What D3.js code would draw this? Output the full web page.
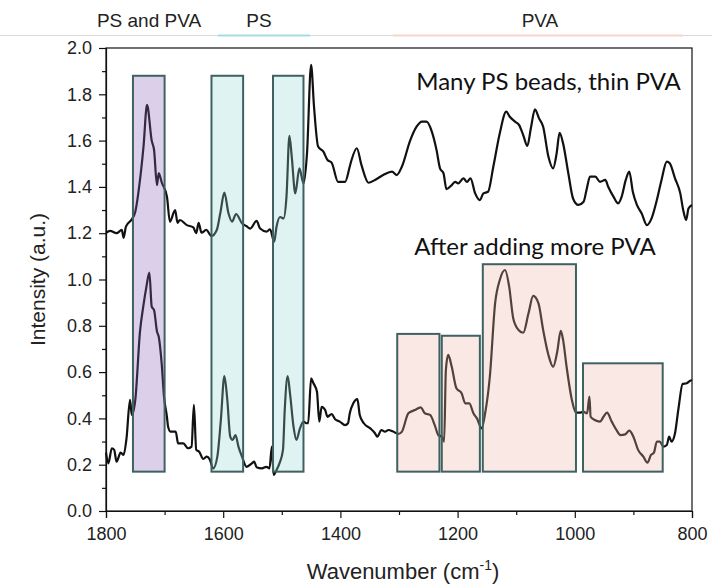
<!DOCTYPE html>
<html>
<head>
<meta charset="utf-8">
<script src="https://cdn.jsdelivr.net/npm/d3@7"></script>
<style>
  html, body { margin: 0; padding: 0; background: #fff; }
  svg { display: block; }
</style>
</head>
<body>
<div id="chart"></div>
<script>
// Spectra: [wavenumber (cm-1), intensity (a.u.)]
const thinPvaSpectrum = [
  [1800, 1.202], [1793, 1.21], [1782, 1.20], [1773, 1.214], [1770, 1.18], [1766, 1.228],
  [1756, 1.26], [1750, 1.293], [1742, 1.43], [1736, 1.574], [1730, 1.754], [1722, 1.60],
  [1718, 1.56], [1713, 1.408], [1710, 1.46], [1705, 1.42], [1696, 1.358], [1691, 1.25],
  [1682, 1.30], [1678, 1.245], [1674, 1.257], [1662, 1.235], [1651, 1.225], [1646, 1.20],
  [1642, 1.245], [1637, 1.202], [1629, 1.214], [1620, 1.188], [1611, 1.214], [1605, 1.286],
  [1598, 1.375], [1591, 1.286], [1585, 1.25], [1578, 1.283], [1568, 1.243], [1560, 1.23],
  [1554, 1.22], [1543, 1.253], [1537, 1.22], [1526, 1.207], [1520, 1.217], [1513, 1.163],
  [1509, 1.228], [1503, 1.27], [1497, 1.264], [1492, 1.358], [1487, 1.621], [1483, 1.53],
  [1477, 1.372], [1470, 1.48], [1463, 1.415], [1457, 1.545], [1450, 1.927], [1445, 1.746],
  [1438, 1.574], [1429, 1.552], [1422, 1.516], [1415, 1.505], [1404, 1.422], [1392, 1.422],
  [1384, 1.488], [1381, 1.516], [1372, 1.567], [1364, 1.494], [1352, 1.418], [1341, 1.43],
  [1327, 1.451], [1312, 1.466], [1304, 1.451], [1295, 1.488], [1281, 1.60], [1270, 1.66],
  [1261, 1.682], [1253, 1.682], [1244, 1.639], [1236, 1.56], [1230, 1.48], [1224, 1.458],
  [1219, 1.39], [1210, 1.408], [1204, 1.422], [1199, 1.415], [1190, 1.437], [1184, 1.422],
  [1178, 1.437], [1170, 1.372], [1162, 1.343], [1156, 1.372], [1148, 1.379], [1139, 1.488],
  [1128, 1.632], [1117, 1.725], [1111, 1.703], [1102, 1.682], [1095, 1.667], [1088, 1.624],
  [1081, 1.577], [1075, 1.653], [1068, 1.735], [1061, 1.696], [1054, 1.66], [1045, 1.53],
  [1037, 1.48], [1031, 1.545], [1026, 1.634], [1020, 1.588], [1011, 1.458], [1003, 1.35],
  [994, 1.322], [985, 1.336], [980, 1.387], [974, 1.444], [965, 1.444], [957, 1.422],
  [948, 1.43], [943, 1.401], [934, 1.358], [926, 1.329], [920, 1.358], [913, 1.43],
  [907, 1.466], [901, 1.379], [894, 1.322], [886, 1.286], [877, 1.235], [869, 1.264],
  [860, 1.343], [852, 1.43], [843, 1.509], [838, 1.502], [829, 1.437], [820, 1.372],
  [815, 1.30], [810, 1.257], [806, 1.307], [800, 1.322]
];

const morePvaSpectrum = [
  [1800, 0.252], [1796, 0.206], [1790, 0.271], [1786, 0.264], [1782, 0.213], [1775, 0.252],
  [1770, 0.242], [1765, 0.314], [1759, 0.48], [1756, 0.415], [1750, 0.48], [1742, 0.775],
  [1736, 0.89], [1731, 0.969], [1726, 1.03], [1722, 0.883], [1718, 0.868], [1713, 0.775],
  [1710, 0.753], [1705, 0.638], [1701, 0.494], [1696, 0.407], [1694, 0.364], [1690, 0.343],
  [1681, 0.343], [1677, 0.292], [1668, 0.292], [1660, 0.271], [1654, 0.278], [1650, 0.458],
  [1646, 0.264], [1641, 0.256], [1634, 0.225], [1628, 0.235], [1623, 0.223], [1617, 0.184],
  [1610, 0.235], [1604, 0.393], [1598, 0.583], [1593, 0.48], [1588, 0.321], [1584, 0.307],
  [1579, 0.328], [1574, 0.278], [1568, 0.235], [1560, 0.191], [1551, 0.206], [1547, 0.213],
  [1543, 0.189], [1534, 0.184], [1526, 0.191], [1521, 0.184], [1517, 0.278], [1514, 0.156],
  [1509, 0.177], [1504, 0.206], [1498, 0.264], [1495, 0.436], [1490, 0.583], [1486, 0.508],
  [1480, 0.364], [1475, 0.307], [1469, 0.357], [1463, 0.386], [1458, 0.379], [1455, 0.379],
  [1450, 0.573], [1446, 0.552], [1440, 0.515], [1436, 0.386], [1432, 0.45], [1426, 0.436],
  [1422, 0.407], [1415, 0.419], [1409, 0.396], [1401, 0.386], [1392, 0.371], [1387, 0.379],
  [1384, 0.422], [1378, 0.465], [1371, 0.483], [1367, 0.415], [1360, 0.379], [1349, 0.357],
  [1341, 0.336], [1337, 0.321], [1330, 0.35], [1324, 0.343], [1318, 0.35], [1310, 0.343],
  [1301, 0.333], [1295, 0.343], [1284, 0.422], [1273, 0.436], [1263, 0.448], [1256, 0.422],
  [1247, 0.415], [1239, 0.371], [1233, 0.328], [1227, 0.321], [1223, 0.30], [1220, 0.609],
  [1216, 0.674], [1210, 0.623], [1202, 0.53], [1193, 0.508], [1187, 0.465], [1180, 0.465],
  [1173, 0.422], [1167, 0.40], [1159, 0.357], [1153, 0.422], [1145, 0.58], [1136, 0.897],
  [1128, 0.998], [1119, 1.041], [1112, 0.969], [1105, 0.832], [1096, 0.782], [1088, 0.77],
  [1079, 0.854], [1071, 0.929], [1062, 0.897], [1054, 0.782], [1045, 0.674], [1037, 0.623],
  [1030, 0.688], [1024, 0.778], [1020, 0.739], [1014, 0.623], [1005, 0.48], [998, 0.425],
  [991, 0.425], [986, 0.429], [979, 0.422], [975, 0.494], [973, 0.407], [966, 0.393],
  [957, 0.386], [951, 0.407], [945, 0.425], [937, 0.386], [929, 0.35], [922, 0.328],
  [914, 0.331], [907, 0.347], [900, 0.321], [892, 0.264], [883, 0.235], [876, 0.209],
  [870, 0.242], [865, 0.252], [860, 0.30], [855, 0.30], [849, 0.278], [843, 0.285],
  [839, 0.321], [835, 0.30], [829, 0.336], [823, 0.444], [816, 0.549], [809, 0.552],
  [803, 0.563], [800, 0.566]
];

// Highlighted bands: [from cm-1, to cm-1, bottom, top]
const psPvaBands = [[1754, 1700, 0.17, 1.88]];
const psBands = [[1620, 1566, 0.17, 1.88], [1515, 1463, 0.17, 1.88]];
const pvaBands = [
  [1303, 1231, 0.17, 0.765],
  [1227, 1162, 0.17, 0.757],
  [1157, 998, 0.17, 1.066],
  [986, 850, 0.17, 0.638]
];

const headerLabels = ['PS and PVA', 'PS', 'PVA'];
const annotations = ['Many PS beads, thin PVA', 'After adding more PVA'];

const xMajorTicks = [1800, 1600, 1400, 1200, 1000, 800];
const xMinorTicks = [1700, 1500, 1300, 1100, 900];
const yMajorTicks = [0, 0.2, 0.4, 0.6, 0.8, 1.0, 1.2, 1.4, 1.6, 1.8, 2.0];
const yMinorTicks = [0.1, 0.3, 0.5, 0.7, 0.9, 1.1, 1.3, 1.5, 1.7, 1.9];

// ---- setup ----
const width = 712, height = 585;
const margin = { top: 48, right: 20, bottom: 74, left: 106 };
const innerW = width - margin.left - margin.right;
const innerH = height - margin.top - margin.bottom;

const svg = d3.select('#chart').append('svg')
  .attr('width', width)
  .attr('height', height);

// header strip above the plot
svg.append('line')
  .attr('x1', 0).attr('x2', width)
  .attr('y1', 35.5).attr('y2', 35.5)
  .attr('stroke', '#d9d9d9').attr('stroke-width', 1);
svg.append('line')
  .attr('x1', 218).attr('x2', 310).attr('y1', 35.5).attr('y2', 35.5)
  .attr('stroke', '#a6dde0').attr('stroke-width', 2);
svg.append('line')
  .attr('x1', 393).attr('x2', 683).attr('y1', 35.5).attr('y2', 35.5)
  .attr('stroke', '#f9d3cc').attr('stroke-width', 2);

const headerX = [149, 259, 540];
svg.selectAll('.header')
  .data(headerLabels)
  .enter().append('text')
  .attr('class', 'header')
  .attr('x', (d, i) => headerX[i])
  .attr('y', 27)
  .attr('text-anchor', 'middle')
  .style('font-family', '"Liberation Sans Narrow", "Arial Narrow", sans-serif')
  .style('font-size', '19px')
  .style('fill', '#222')
  .text(d => d);

const g = svg.append('g')
  .attr('transform', `translate(${margin.left},${margin.top})`);

// ---- scales ----
const x = d3.scaleLinear().domain([1800, 800]).range([0, innerW]);
const y = d3.scaleLinear().domain([0, 2]).range([innerH, 0]);

// ---- curves ----
const line = d3.line()
  .x(d => x(d[0]))
  .y(d => y(d[1]))
  .curve(d3.curveMonotoneX);

[thinPvaSpectrum, morePvaSpectrum].forEach(s => {
  g.append('path')
    .datum(s)
    .attr('d', line)
    .attr('fill', 'none')
    .attr('stroke', '#111')
    .attr('stroke-width', 2.2)
    .attr('stroke-linejoin', 'round');
});

// ---- bands (translucent, drawn over the curves) ----
function drawBands(list, fill) {
  g.selectAll(null)
    .data(list)
    .enter().append('rect')
    .attr('x', d => x(d[0]))
    .attr('y', d => y(d[3]))
    .attr('width', d => x(d[1]) - x(d[0]))
    .attr('height', d => y(d[2]) - y(d[3]))
    .attr('fill', fill)
    .attr('fill-opacity', 0.3)
    .attr('stroke', '#3f6161')
    .attr('stroke-width', 2);
}
drawBands(psPvaBands, '#8a5fb5');
drawBands(psBands, '#93d7d3');
drawBands(pvaBands, '#f0b3a8');

// ---- annotations ----
g.append('text')
  .attr('x', x(819)).attr('y', y(1.82))
  .attr('text-anchor', 'end')
  .style('font-family', 'Lato, sans-serif')
  .style('font-size', '24px')
  .style('fill', '#111')
  .text(annotations[0]);
g.append('text')
  .attr('x', x(1274)).attr('y', y(1.106))
  .attr('text-anchor', 'start')
  .style('font-family', 'Lato, sans-serif')
  .style('font-size', '24px')
  .style('fill', '#111')
  .text(annotations[1]);

// ---- axes ----
g.append('g')
  .attr('transform', `translate(0,${innerH})`)
  .call(d3.axisBottom(x).tickValues(xMajorTicks).tickSize(7).tickPadding(9).tickFormat(d3.format('d')));
g.append('g')
  .attr('transform', `translate(0,${innerH})`)
  .call(d3.axisBottom(x).tickValues(xMinorTicks).tickSize(4).tickFormat(''))
  .select('.domain').remove();

g.append('g')
  .call(d3.axisLeft(y).tickValues(yMajorTicks).tickSize(7).tickPadding(7).tickFormat(d3.format('.1f')));
g.append('g')
  .call(d3.axisLeft(y).tickValues(yMinorTicks).tickSize(4).tickFormat(''))
  .select('.domain').remove();

g.selectAll('.tick text')
  .style('font-family', '"Liberation Sans", Arial, sans-serif')
  .style('font-size', '18px')
  .style('fill', '#222');
g.selectAll('.tick line').attr('stroke', '#111').attr('stroke-width', 1.2);
g.selectAll('.domain').attr('stroke', '#111').attr('stroke-width', 1.2);

// frame top/right
g.append('rect')
  .attr('x', 0).attr('y', 0)
  .attr('width', innerW).attr('height', innerH)
  .attr('fill', 'none')
  .attr('stroke', '#111')
  .attr('stroke-width', 1.2);

// ---- axis titles ----
svg.append('text')
  .attr('transform', `translate(45,${margin.top + innerH / 2}) rotate(-90)`)
  .attr('text-anchor', 'middle')
  .style('font-family', '"Liberation Sans", Arial, sans-serif')
  .style('font-size', '21px')
  .style('fill', '#222')
  .text('Intensity (a.u.)');

const xTitle = svg.append('text')
  .attr('x', margin.left + innerW / 2 + 4)
  .attr('y', 579)
  .attr('text-anchor', 'middle')
  .style('font-family', '"Liberation Sans", Arial, sans-serif')
  .style('font-size', '22px')
  .style('fill', '#222');
xTitle.append('tspan').text('Wavenumber (cm');
xTitle.append('tspan').attr('dy', -9).style('font-size', '14px').text('-1');
xTitle.append('tspan').attr('dy', 9).text(')');
</script>
</body>
</html>
